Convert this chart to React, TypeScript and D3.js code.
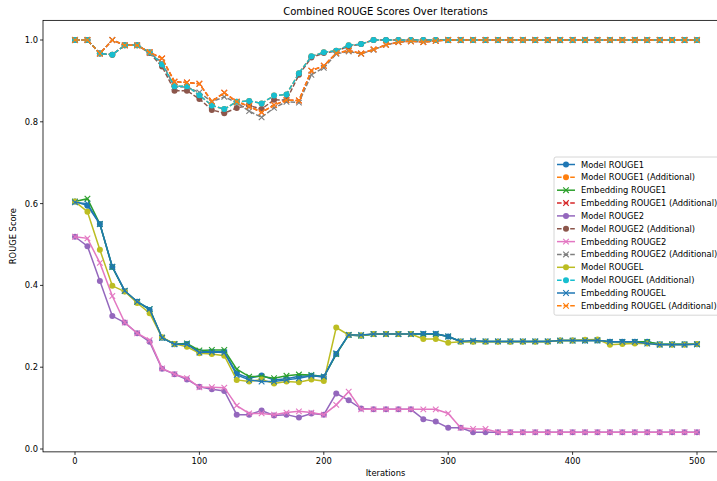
import React from "react";
import * as d3 from "d3";

const iterations: number[] = Array.from({ length: 51 }, (_, i) => i * 10);

const modelRouge1: number[] = [
  0.605, 0.595, 0.55, 0.445, 0.386, 0.36, 0.34, 0.272, 0.256, 0.257,
  0.238, 0.238, 0.238, 0.185, 0.173, 0.18, 0.169, 0.172, 0.178, 0.179,
  0.176, 0.232, 0.279, 0.277, 0.281, 0.281, 0.281, 0.281, 0.281, 0.281,
  0.275, 0.263, 0.263, 0.263, 0.263, 0.263, 0.263, 0.263, 0.263, 0.265,
  0.265, 0.265, 0.265, 0.262, 0.262, 0.262, 0.262, 0.256, 0.256, 0.256, 0.256,
];
const modelRouge1Add: number[] = [
  1.0, 1.0, 0.967, 0.964, 0.987, 0.987, 0.97, 0.94, 0.887, 0.887,
  0.865, 0.84, 0.831, 0.849, 0.851, 0.845, 0.864, 0.867, 0.919, 0.96,
  0.97, 0.974, 0.987, 0.99, 1.0, 1.0, 1.0, 1.0, 1.0, 1.0,
  1.0, 1.0, 1.0, 1.0, 1.0, 1.0, 1.0, 1.0, 1.0, 1.0,
  1.0, 1.0, 1.0, 1.0, 1.0, 1.0, 1.0, 1.0, 1.0, 1.0, 1.0,
];
const embRouge1: number[] = [
  0.605, 0.612, 0.55, 0.445, 0.386, 0.36, 0.342, 0.272, 0.257, 0.258,
  0.241, 0.242, 0.242, 0.195, 0.177, 0.177, 0.173, 0.179, 0.182, 0.181,
  0.177, 0.232, 0.279, 0.277, 0.281, 0.281, 0.281, 0.281, 0.281, 0.281,
  0.275, 0.263, 0.263, 0.263, 0.263, 0.263, 0.263, 0.263, 0.263, 0.265,
  0.265, 0.265, 0.265, 0.262, 0.262, 0.262, 0.262, 0.256, 0.256, 0.256, 0.256,
];
const embRouge1Add: number[] = [
  1.0, 1.0, 0.967, 1.0, 0.987, 0.987, 0.97, 0.955, 0.898, 0.896,
  0.893, 0.85, 0.871, 0.849, 0.838, 0.823, 0.841, 0.853, 0.852, 0.925,
  0.937, 0.968, 0.974, 0.967, 0.977, 0.988, 0.995, 0.997, 0.995, 0.998,
  1.0, 1.0, 1.0, 1.0, 1.0, 1.0, 1.0, 1.0, 1.0, 1.0,
  1.0, 1.0, 1.0, 1.0, 1.0, 1.0, 1.0, 1.0, 1.0, 1.0, 1.0,
];
const modelRouge2: number[] = [
  0.519, 0.496, 0.411, 0.325, 0.309, 0.283, 0.262, 0.196, 0.183, 0.17,
  0.152, 0.146, 0.142, 0.084, 0.084, 0.094, 0.082, 0.084, 0.077, 0.087,
  0.084, 0.136, 0.119, 0.099, 0.097, 0.097, 0.097, 0.097, 0.073, 0.067,
  0.052, 0.052, 0.041, 0.041, 0.041, 0.041, 0.041, 0.041, 0.041, 0.041,
  0.041, 0.041, 0.041, 0.041, 0.041, 0.041, 0.041, 0.041, 0.041, 0.041, 0.041,
];
const modelRouge2Add: number[] = [
  1.0, 1.0, 0.967, 0.964, 0.987, 0.987, 0.968, 0.935, 0.876, 0.876,
  0.856, 0.829, 0.821, 0.834, 0.84, 0.831, 0.854, 0.853, 0.915, 0.957,
  0.968, 0.973, 0.985, 0.99, 1.0, 1.0, 1.0, 1.0, 1.0, 1.0,
  1.0, 1.0, 1.0, 1.0, 1.0, 1.0, 1.0, 1.0, 1.0, 1.0,
  1.0, 1.0, 1.0, 1.0, 1.0, 1.0, 1.0, 1.0, 1.0, 1.0, 1.0,
];
const embRouge2: number[] = [
  0.519, 0.515, 0.455, 0.374, 0.309, 0.283, 0.266, 0.197, 0.183, 0.173,
  0.151, 0.151, 0.15, 0.106, 0.087, 0.087, 0.084, 0.089, 0.092, 0.089,
  0.084, 0.108, 0.14, 0.097, 0.097, 0.097, 0.097, 0.097, 0.097, 0.097,
  0.087, 0.052, 0.049, 0.049, 0.041, 0.041, 0.041, 0.041, 0.041, 0.041,
  0.041, 0.041, 0.041, 0.041, 0.041, 0.041, 0.041, 0.041, 0.041, 0.041, 0.041,
];
const embRouge2Add: number[] = [
  1.0, 1.0, 0.967, 1.0, 0.987, 0.987, 0.968, 0.945, 0.885, 0.885,
  0.872, 0.849, 0.861, 0.847, 0.826, 0.811, 0.834, 0.849, 0.847, 0.915,
  0.932, 0.966, 0.972, 0.966, 0.976, 0.988, 0.995, 0.997, 0.995, 0.998,
  1.0, 1.0, 1.0, 1.0, 1.0, 1.0, 1.0, 1.0, 1.0, 1.0,
  1.0, 1.0, 1.0, 1.0, 1.0, 1.0, 1.0, 1.0, 1.0, 1.0, 1.0,
];
const modelRougeL: number[] = [
  0.605, 0.58, 0.487, 0.399, 0.385, 0.357, 0.332, 0.273, 0.257, 0.25,
  0.234, 0.232, 0.228, 0.169, 0.165, 0.17, 0.16, 0.165, 0.163, 0.17,
  0.166, 0.297, 0.279, 0.278, 0.281, 0.281, 0.281, 0.281, 0.269, 0.269,
  0.26, 0.262, 0.262, 0.262, 0.262, 0.262, 0.262, 0.262, 0.262, 0.265,
  0.265, 0.267, 0.268, 0.255, 0.257, 0.258, 0.258, 0.255, 0.255, 0.255, 0.257,
];
const modelRougeLAdd: number[] = [
  1.0, 1.0, 0.967, 0.964, 0.987, 0.987, 0.97, 0.94, 0.887, 0.887,
  0.865, 0.84, 0.831, 0.849, 0.851, 0.845, 0.864, 0.867, 0.919, 0.96,
  0.97, 0.974, 0.987, 0.99, 1.0, 1.0, 1.0, 1.0, 1.0, 1.0,
  1.0, 1.0, 1.0, 1.0, 1.0, 1.0, 1.0, 1.0, 1.0, 1.0,
  1.0, 1.0, 1.0, 1.0, 1.0, 1.0, 1.0, 1.0, 1.0, 1.0, 1.0,
];
const embRougeL: number[] = [
  0.603, 0.6, 0.55, 0.446, 0.387, 0.36, 0.342, 0.272, 0.256, 0.256,
  0.236, 0.237, 0.236, 0.181, 0.169, 0.165, 0.165, 0.169, 0.173, 0.179,
  0.177, 0.234, 0.279, 0.279, 0.281, 0.281, 0.281, 0.281, 0.282, 0.282,
  0.275, 0.263, 0.265, 0.263, 0.263, 0.263, 0.263, 0.263, 0.263, 0.265,
  0.265, 0.265, 0.266, 0.262, 0.262, 0.262, 0.258, 0.255, 0.255, 0.255, 0.256,
];
const embRougeLAdd: number[] = [
  1.0, 1.0, 0.967, 1.0, 0.987, 0.987, 0.97, 0.955, 0.898, 0.896,
  0.893, 0.85, 0.871, 0.849, 0.838, 0.823, 0.841, 0.853, 0.852, 0.925,
  0.937, 0.968, 0.974, 0.967, 0.977, 0.988, 0.995, 0.997, 0.995, 0.998,
  1.0, 1.0, 1.0, 1.0, 1.0, 1.0, 1.0, 1.0, 1.0, 1.0,
  1.0, 1.0, 1.0, 1.0, 1.0, 1.0, 1.0, 1.0, 1.0, 1.0, 1.0,
];

const seriesNames: string[] = [
  "Model ROUGE1",
  "Model ROUGE1 (Additional)",
  "Embedding ROUGE1",
  "Embedding ROUGE1 (Additional)",
  "Model ROUGE2",
  "Model ROUGE2 (Additional)",
  "Embedding ROUGE2",
  "Embedding ROUGE2 (Additional)",
  "Model ROUGEL",
  "Model ROUGEL (Additional)",
  "Embedding ROUGEL",
  "Embedding ROUGEL (Additional)",
];
const seriesValues: number[][] = [
  modelRouge1, modelRouge1Add, embRouge1, embRouge1Add,
  modelRouge2, modelRouge2Add, embRouge2, embRouge2Add,
  modelRougeL, modelRougeLAdd, embRougeL, embRougeLAdd,
];
const seriesColors: string[] = [
  "#1f77b4", "#ff7f0e", "#2ca02c", "#d62728", "#9467bd", "#8c564b",
  "#e377c2", "#7f7f7f", "#bcbd22", "#17becf", "#1f77b4", "#ff7f0e",
];
const seriesMarkers: string[] = ["o", "o", "x", "x", "o", "o", "x", "x", "o", "o", "x", "x"];
const seriesDashed: boolean[] = [false, true, false, true, false, true, false, true, false, true, false, true];

const xTicks: number[] = [0, 100, 200, 300, 400, 500];
const yTicks: number[] = [0.0, 0.2, 0.4, 0.6, 0.8, 1.0];

const W = 717;
const H = 481;
const FONT = "DejaVu Sans, sans-serif";

function Marker({ kind, x, y, color }: { kind: string; x: number; y: number; color: string }) {
  if (kind === "o") {
    return <circle cx={x} cy={y} r={3} fill={color} />;
  }
  const s = 2.8;
  return (
    <path
      d={`M${x - s},${y - s}L${x + s},${y + s}M${x - s},${y + s}L${x + s},${y - s}`}
      stroke={color}
      strokeWidth={1.1}
      fill="none"
    />
  );
}

export default function App() {
  const x = d3.scaleLinear().domain([0, 500]).range([75, 697]);
  const y = d3.scaleLinear().domain([0, 1]).range([449, 40]);
  const axLeft = 43;
  const axRight = 728;
  const axTop = y(1.048);
  const axBottom = y(-0.007);

  const line = d3
    .line<number>()
    .x((_, i) => x(iterations[i]))
    .y((d) => y(d));

  const legX = 554;
  const legTop = 157;
  const rowH = 12.85;

  return (
    <div style={{ position: "fixed", left: 0, top: 0 }}>
      <svg width={W} height={H} style={{ display: "block", background: "#fff" }} fontFamily={FONT}>
        <rect x={0} y={0} width={W} height={H} fill="#fff" />
        <text x={(axLeft + axRight) / 2} y={15} textAnchor="middle" fontSize={10} fill="#000">
          Combined ROUGE Scores Over Iterations
        </text>

        {seriesValues.map((vals, si) => (
          <g key={si}>
            <path
              d={line(vals) || ""}
              fill="none"
              stroke={seriesColors[si]}
              strokeWidth={1.5}
              strokeDasharray={seriesDashed[si] ? "4.6,2" : undefined}
            />
            {vals.map((v, i) => (
              <Marker key={i} kind={seriesMarkers[si]} x={x(iterations[i])} y={y(v)} color={seriesColors[si]} />
            ))}
          </g>
        ))}

        {/* frame */}
        <rect x={axLeft} y={axTop} width={axRight - axLeft} height={axBottom - axTop} fill="none" stroke="#000" strokeWidth={0.8} />

        {/* x ticks */}
        {xTicks.map((t) => (
          <g key={t}>
            <line x1={x(t)} x2={x(t)} y1={axBottom} y2={axBottom + 3} stroke="#000" strokeWidth={0.8} />
            <text x={x(t)} y={axBottom + 12} textAnchor="middle" fontSize={8.33} fill="#000">
              {t}
            </text>
          </g>
        ))}
        <text x={(axLeft + axRight) / 2} y={476} textAnchor="middle" fontSize={8.33} fill="#000">
          Iterations
        </text>

        {/* y ticks */}
        {yTicks.map((t) => (
          <g key={t}>
            <line x1={axLeft - 3} x2={axLeft} y1={y(t)} y2={y(t)} stroke="#000" strokeWidth={0.8} />
            <text x={axLeft - 5} y={y(t) + 3} textAnchor="end" fontSize={8.33} fill="#000">
              {t.toFixed(1)}
            </text>
          </g>
        ))}
        <text
          transform={`translate(16,${(axTop + axBottom) / 2}) rotate(-90)`}
          textAnchor="middle"
          fontSize={8.33}
          fill="#000"
        >
          ROUGE Score
        </text>

        {/* legend */}
        <rect
          x={legX}
          y={legTop}
          width={200}
          height={rowH * 12 + 4}
          rx={2}
          fill="#fff"
          fillOpacity={0.8}
          stroke="#cccccc"
          strokeWidth={0.8}
        />
        {seriesNames.map((name, i) => {
          const cy = legTop + 7.5 + i * rowH;
          return (
            <g key={name}>
              <line
                x1={legX + 3}
                x2={legX + 21}
                y1={cy}
                y2={cy}
                stroke={seriesColors[i]}
                strokeWidth={1.5}
                strokeDasharray={seriesDashed[i] ? "4.6,2" : undefined}
              />
              <Marker kind={seriesMarkers[i]} x={legX + 12} y={cy} color={seriesColors[i]} />
              <text x={legX + 27} y={cy + 3} fontSize={8.33} fill="#000">
                {name}
              </text>
            </g>
          );
        })}
      </svg>
    </div>
  );
}
